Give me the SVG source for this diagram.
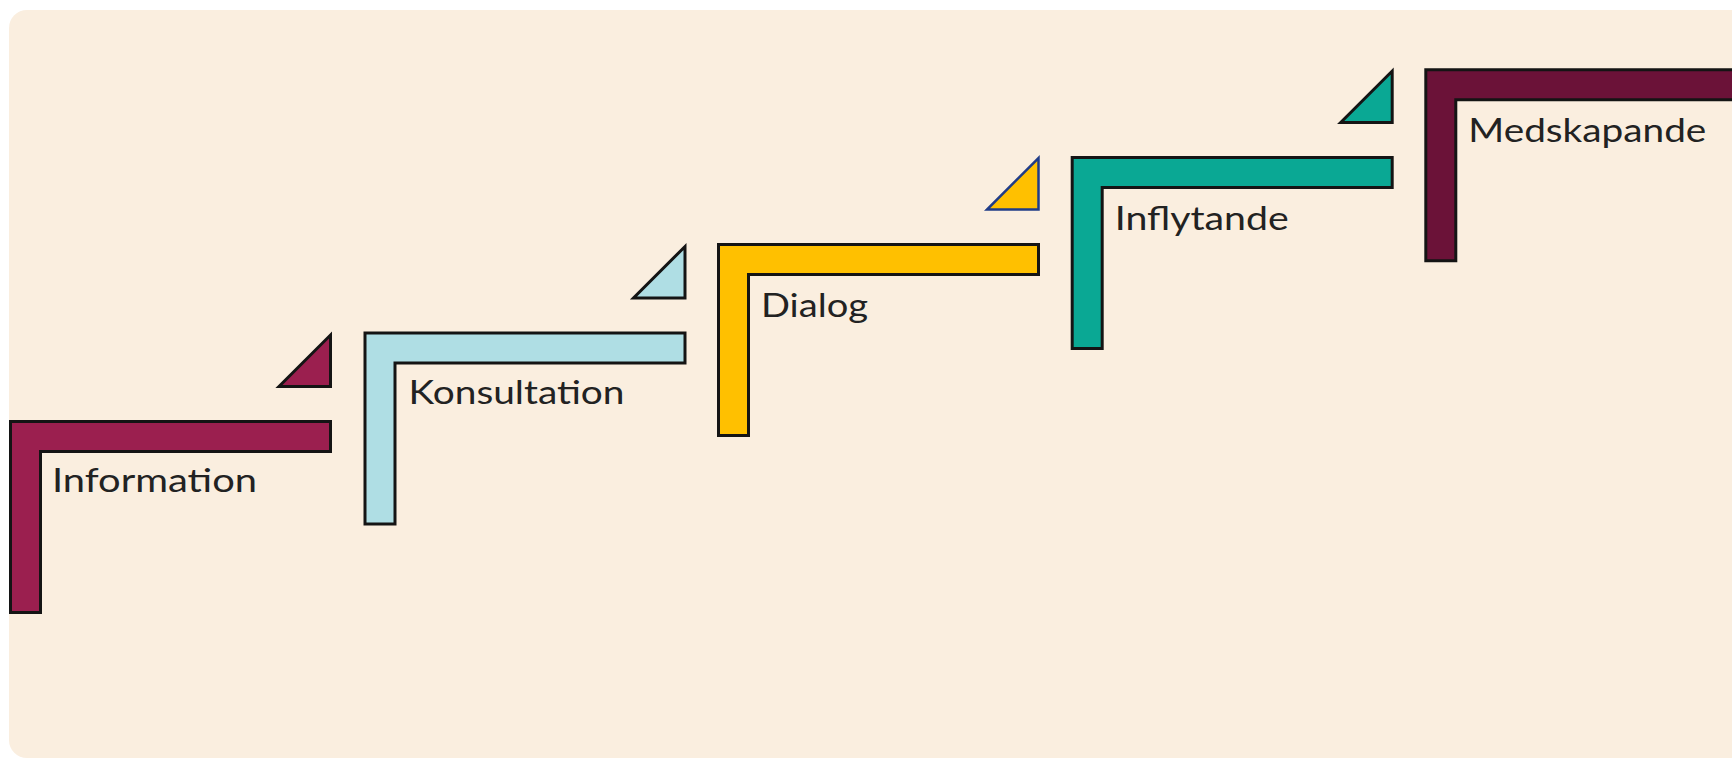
<svg xmlns="http://www.w3.org/2000/svg" width="1732" height="759" viewBox="0 0 1732 759">
  <style>
    .bg { fill: #faeedf; }
    .shape { stroke: #141414; stroke-width: 3; stroke-linejoin: miter; }
    .label { font-family: "Lato", "Liberation Sans", sans-serif; font-size: 32px; fill: #222222; font-weight: 400; }
    .c1 { fill: #9b1f4f; }
    .c2 { fill: #afdee4; }
    .c3 { fill: #ffc000; }
    .c4 { fill: #0aa894; }
    .c5 { fill: #6b1238; }
    .tri3 { stroke: #1f3c88; stroke-width: 2.5; }
  </style>
  <defs>
    <path id="ell" d="M1.5,1.5 H321.5 V31.5 H31.5 V192.5 H1.5 Z"/>
    <path id="tri" d="M321.5,-85 V-33.5 H270 Z"/>
  </defs>
  <rect x="0" y="0" width="1732" height="759" fill="#ffffff"/>
  <rect class="bg" x="9" y="10" width="1760" height="748" rx="18" ry="18"/>

  <g id="connectors"></g>

  <g id="node-information" transform="translate(9,420)">
    <use href="#ell" class="shape c1"/>
    <use href="#tri" class="shape c1"/>
    <text class="label" x="43" y="72" textLength="205" lengthAdjust="spacingAndGlyphs">Information</text>
  </g>

  <g id="node-konsultation" transform="translate(363.5,331.5)">
    <use href="#ell" class="shape c2"/>
    <use href="#tri" class="shape c2"/>
    <text class="label" x="45" y="72.5" textLength="216" lengthAdjust="spacingAndGlyphs">Konsultation</text>
  </g>

  <g id="node-dialog" transform="translate(717,243)">
    <use href="#ell" class="shape c3"/>
    <use href="#tri" class="shape c3 tri3"/>
    <text class="label" x="44" y="73.5" textLength="107" lengthAdjust="spacingAndGlyphs">Dialog</text>
  </g>

  <g id="node-inflytande" transform="translate(1070.7,156)">
    <use href="#ell" class="shape c4"/>
    <use href="#tri" class="shape c4"/>
    <text class="label" x="44" y="74" textLength="174" lengthAdjust="spacingAndGlyphs">Inflytande</text>
  </g>

  <g id="node-medskapande" transform="translate(1424.3,68.3)">
    <use href="#ell" class="shape c5"/>
    <text class="label" x="44" y="73.4" textLength="238" lengthAdjust="spacingAndGlyphs">Medskapande</text>
  </g>
</svg>
